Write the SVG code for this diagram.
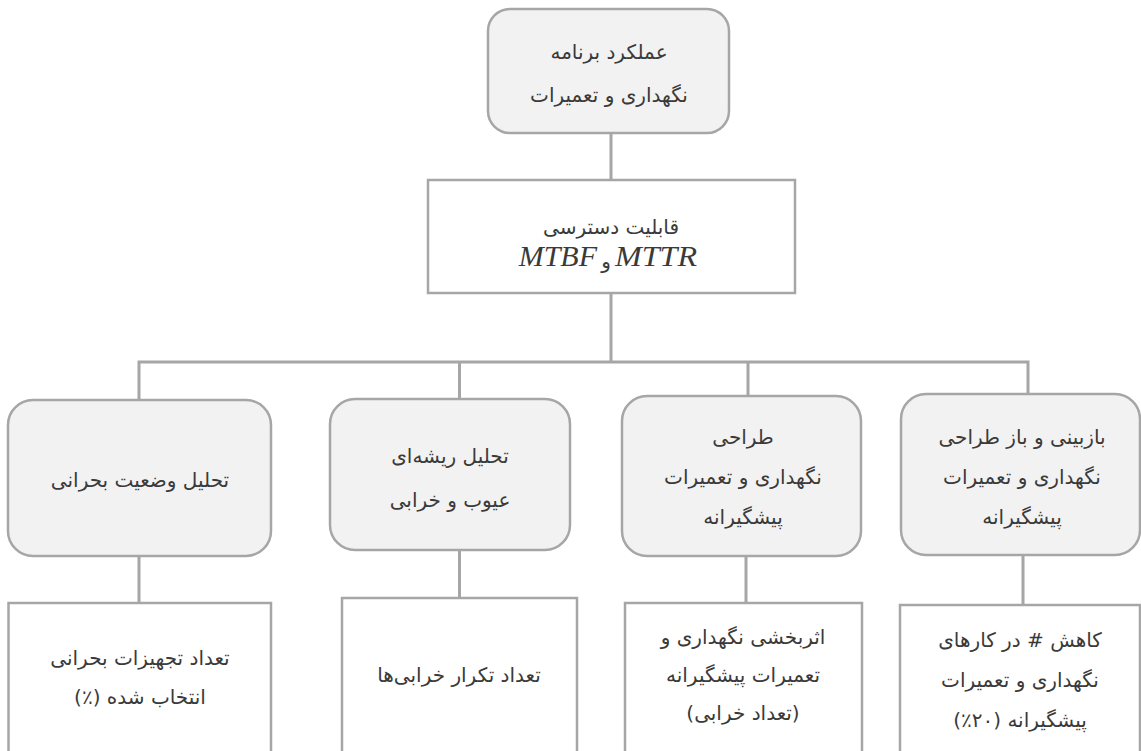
<svg xmlns="http://www.w3.org/2000/svg" width="1141" height="751" viewBox="0 0 1141 751">
<style>
.rn{fill:#f2f2f2;stroke:#a6a6a6;stroke-width:2.5}
.sq{fill:#ffffff;stroke:#a6a6a6;stroke-width:2.5}
.c{fill:none;stroke:#a6a6a6;stroke-width:3}
.t{font-family:"DejaVu Sans",sans-serif;font-size:20px;fill:#3a3a3a;text-anchor:middle}
.m{font-family:"Liberation Serif",serif;font-style:italic;font-size:30px;fill:#3a3a3a}
</style>
<rect width="1141" height="751" fill="#ffffff"/>
<g id="connectors">
<path class="c" d="M611 133V180M611 293V362M139 400V362H1028V394M459.5 362V399M748 362V396"/>
<path class="c" d="M139 556V603M459.5 550V598M746 556V603M1023 555V605"/>
</g>
<g id="n-top">
<rect class="rn" x="488" y="9" width="241" height="124" rx="22"/>
<text class="t" direction="rtl" x="609" y="59">عملکرد برنامه</text>
<text class="t" direction="rtl" x="609" y="102">نگهداری و تعمیرات</text>
</g>
<g id="n-avail">
<rect class="sq" x="428" y="180" width="367" height="113"/>
<text class="t" direction="rtl" x="611" y="234">قابلیت دسترسی</text>
<text class="m" x="597" y="266" text-anchor="end">MTBF</text>
<text class="t" x="606" y="268">و</text>
<text class="m" x="615" y="266" text-anchor="start" textLength="82" lengthAdjust="spacingAndGlyphs">MTTR</text>
</g>
<g id="n-crit">
<rect class="rn" x="8" y="400" width="263" height="156" rx="25"/>
<text class="t" direction="rtl" x="140" y="487">تحلیل وضعیت بحرانی</text>
</g>
<g id="n-rca">
<rect class="rn" x="330" y="399" width="240" height="151" rx="25"/>
<text class="t" direction="rtl" x="450" y="463">تحلیل ریشه‌ای</text>
<text class="t" direction="rtl" x="450" y="507">عیوب و خرابی</text>
</g>
<g id="n-design">
<rect class="rn" x="622" y="396" width="239" height="160" rx="25"/>
<text class="t" direction="rtl" x="743" y="444">طراحی</text>
<text class="t" direction="rtl" x="743" y="484">نگهداری و تعمیرات</text>
<text class="t" direction="rtl" x="743" y="524">پیشگیرانه</text>
</g>
<g id="n-review">
<rect class="rn" x="901" y="394" width="239" height="161" rx="25"/>
<text class="t" direction="rtl" x="1022" y="444">بازبینی و باز طراحی</text>
<text class="t" direction="rtl" x="1022" y="484">نگهداری و تعمیرات</text>
<text class="t" direction="rtl" x="1022" y="524">پیشگیرانه</text>
</g>
<g id="k-crit">
<rect class="sq" x="8.5" y="603" width="262.5" height="200"/>
<text class="t" direction="rtl" x="140" y="665">تعداد تجهیزات بحرانی</text>
<text class="t" direction="rtl" x="140" y="704">انتخاب شده (٪)</text>
</g>
<g id="k-rca">
<rect class="sq" x="342" y="598" width="235" height="200"/>
<text class="t" direction="rtl" x="459" y="682">تعداد تکرار خرابی‌ها</text>
</g>
<g id="k-design">
<rect class="sq" x="625" y="603" width="237" height="200"/>
<text class="t" direction="rtl" x="743" y="644">اثربخشی نگهداری و</text>
<text class="t" direction="rtl" x="743" y="682">تعمیرات پیشگیرانه</text>
<text class="t" direction="rtl" x="743" y="720">(تعداد خرابی)</text>
</g>
<g id="k-review">
<rect class="sq" x="900" y="605" width="240" height="200"/>
<text class="t" direction="rtl" x="1020" y="647">کاهش # در کارهای</text>
<text class="t" direction="rtl" x="1020" y="687">نگهداری و تعمیرات</text>
<text class="t" direction="rtl" x="1020" y="727">پیشگیرانه (۲۰٪)</text>
</g>
</svg>
